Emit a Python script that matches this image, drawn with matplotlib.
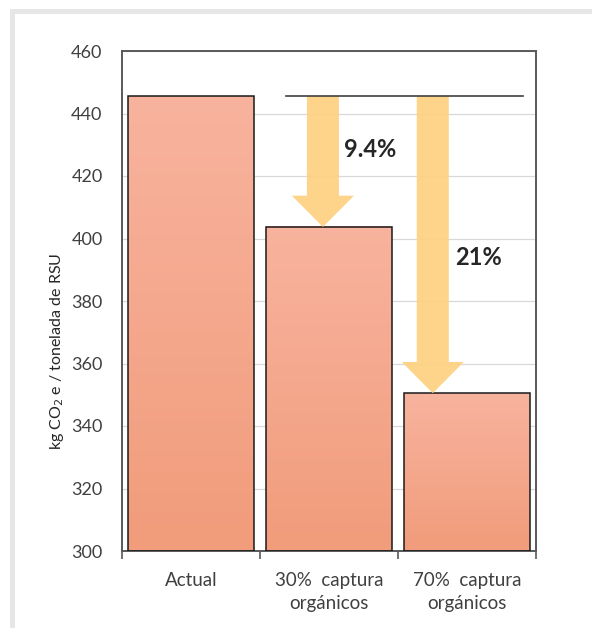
import matplotlib
matplotlib.use("Agg")
import matplotlib.pyplot as plt
import numpy as np
from matplotlib.patches import Rectangle
from matplotlib.colors import LinearSegmentedColormap

plt.rcParams['font.family'] = ['Lato', 'DejaVu Sans']

categories = ["Actual", "30%  captura\norgánicos", "70%  captura\norgánicos"]
values = [445.6, 403.7, 350.5]
reductions = ["9.4%", "21%"]
yticks = [300, 320, 340, 360, 380, 400, 420, 440, 460]

W, H = 592, 628
fig = plt.figure(figsize=(W/100, H/100), dpi=100)
fig.patch.set_facecolor('white')

# outer gray frame (top and left edges visible)
fig.add_artist(Rectangle((10/W, 1-14/H), 1-10/W, 5/H, transform=fig.transFigure,
                         facecolor='#E6E6E6', edgecolor='none'))
fig.add_artist(Rectangle((10/W, 0), 5/W, 1-9/H, transform=fig.transFigure,
                         facecolor='#E6E6E6', edgecolor='none'))

ax = fig.add_axes([122/W, 1-551/H, (536-122)/W, (551-51)/H])

ax.set_yticks(yticks)
ax.yaxis.grid(True, color='#D9D9D9', lw=0.9)
ax.set_axisbelow(True)

cmap = LinearSegmentedColormap.from_list('g', ['#F19C7B', '#F8B39E'])
grad = np.linspace(0, 1, 256).reshape(-1, 1)
x = np.arange(len(categories))
bw = 0.913
for xi, v in zip(x, values):
    ax.imshow(grad, cmap=cmap, origin='lower', aspect='auto',
              extent=[xi - bw/2, xi + bw/2, 300, v], zorder=2)
    ax.add_patch(Rectangle((xi - bw/2, 300), bw, v - 300, facecolor='none',
                           edgecolor='#1a1a1a', lw=1.1, zorder=3))
ax.set_xlim(-0.5, 2.5)
ax.set_ylim(300, 460)
ax.set_aspect('auto')

# arrows
arrow_x = [0.956, 1.752]
for ax_x, target in zip(arrow_x, values[1:]):
    ax.arrow(ax_x, values[0], 0, target - values[0], width=0.232, head_width=0.45,
             head_length=10, length_includes_head=True, facecolor='#FDD283',
             edgecolor='none', alpha=0.95, zorder=4)
ax.plot([0.688, 2.404], [values[0], values[0]], color='#404040', lw=1.2, zorder=5)

ax.text(1.30, 428.6, reductions[0], ha='center', va='center', fontsize=17,
        fontweight='bold', color='#262626', zorder=6)
ax.text(2.083, 394, reductions[1], ha='center', va='center', fontsize=17,
        fontweight='bold', color='#262626', zorder=6)

ax.set_xticks(x)
ax.set_xticklabels(categories, fontsize=13.5, color='#404040')
for lbl in ax.get_xticklabels():
    lbl.set_linespacing(1.45)
ax.set_xticks([-0.5, 0.5, 1.5, 2.5], minor=True)
ax.tick_params(axis='x', which='major', length=0, pad=15)
ax.tick_params(axis='x', which='minor', length=6, width=1.2, color='#595959', direction='out')
ax.tick_params(axis='y', labelsize=13, labelcolor='#404040', length=0, pad=14)

for s in ax.spines.values():
    s.set_color('#595959')
    s.set_linewidth(1.4)

ax.set_ylabel('kg CO$_2$ e / tonelada de RSU', fontsize=11.5, color='#262626')
ax.yaxis.set_label_coords(-0.135, 0.40)

fig.savefig('out.png', dpi=100)
